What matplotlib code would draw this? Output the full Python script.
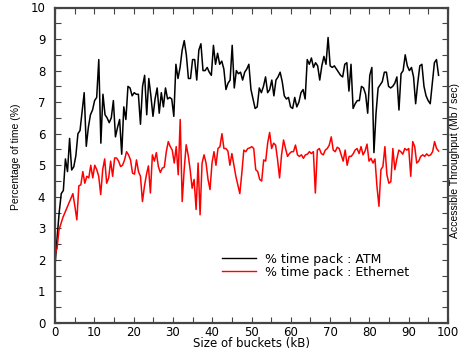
import numpy as np
import matplotlib
matplotlib.use("Agg")
import matplotlib.pyplot as plt
from matplotlib.ticker import MultipleLocator

# % of time spent packing, ATM (black)
atm = [1.8, 2.7, 3.5, 4.1, 4.2, 5.2, 4.8, 5.85, 4.85, 4.95,
       5.3, 6.0, 6.1, 6.7, 7.3, 5.6, 6.2, 6.6, 6.75, 7.05,
       7.15, 8.35, 5.7, 7.25, 6.6, 6.5, 6.35, 6.5, 7.05, 5.9,
       6.2, 6.45, 5.35, 6.85, 6.45, 7.5, 7.45, 7.2, 7.3, 7.25,
       7.25, 6.3, 7.5, 7.85, 6.6,
       7.75, 7.2, 6.55, 7.1, 7.45, 6.65, 7.3, 6.85, 7.45, 7.1,
       7.15, 7.1, 6.55, 8.2, 7.75, 8.1, 8.65, 8.95, 8.5, 7.75,
       7.75, 8.35, 8.35, 7.7, 8.65, 8.85, 8.0, 8.0, 8.1, 7.95,
       7.85, 8.8, 8.2, 8.55, 8.2, 8.3, 8.05, 7.4, 7.6, 7.7,
       8.8, 7.45, 8.0, 7.9, 7.95, 7.7, 7.95, 8.05, 8.2, 7.4,
       7.1, 6.8, 6.85, 7.45, 7.3, 7.5, 7.8, 7.3, 7.4, 7.7,
       7.2, 7.7, 7.8, 7.95, 7.65, 7.2, 7.1, 7.15, 6.85, 6.8,
       7.15, 6.85, 7.0, 7.3, 7.4, 7.1, 8.35, 8.2, 8.4, 8.1,
       8.25, 8.15, 7.7, 8.15, 8.45, 8.2, 9.05, 8.15, 8.1, 8.15,
       8.05, 7.95, 7.85, 7.8, 8.2, 8.25, 7.35, 8.2, 6.8, 6.95,
       7.05, 7.05, 7.5, 7.45, 7.25, 6.65, 7.85, 8.1, 5.4, 6.65,
       7.45, 7.55, 7.65, 7.95, 7.95, 7.5, 7.45, 7.5, 7.6, 7.8,
       6.75, 7.9, 8.0, 8.5, 8.15, 8.0, 8.1, 7.8, 6.95, 7.6,
       8.15, 8.2, 7.5, 7.2, 7.05, 6.95, 7.6, 8.25, 8.35, 7.85]

# % of time spent packing, Ethernet (red)
eth = [2.2, 2.35, 2.95, 3.15, 3.35, 3.5, 3.65, 3.8, 3.95, 4.1,
       3.7, 3.27, 4.35, 4.38, 4.8, 4.43, 4.65, 4.6, 5.0, 4.6,
       5.0, 4.86, 4.65, 4.07, 4.86, 5.2, 4.43, 4.6, 5.13, 4.65,
       5.23, 5.23, 5.13, 4.96,
       5.0, 5.17, 5.43, 5.33, 5.17, 4.75, 4.72, 5.17, 4.8, 4.65,
       3.85, 4.33, 4.7, 4.98, 4.12, 5.33, 5.13, 5.4, 4.96, 4.77,
       4.91, 4.94, 5.43, 5.75, 5.59, 5.48, 5.07, 5.59, 4.7, 6.45,
       3.85, 4.86, 5.65, 5.33, 4.86, 4.27, 4.55, 3.6, 5.07, 3.43,
       5.07, 5.33, 5.07, 4.55, 4.23, 5.07, 5.43, 5.0, 5.53, 5.59,
       6.0, 5.53, 5.53, 5.45, 5.0, 5.37, 5.0, 4.65, 4.38, 4.1,
       4.75, 5.48, 5.43, 5.53,
       5.55, 5.59, 5.53, 4.86, 4.8, 4.55, 4.5, 5.17, 5.13, 5.7,
       6.04, 5.53, 5.7, 5.64, 5.17, 4.6, 5.33, 5.8, 5.53, 5.28,
       5.37, 5.43, 5.43, 5.64, 5.33, 5.28, 5.33, 5.22, 5.33, 5.35,
       5.43, 5.37, 5.43, 4.12,
       5.48, 5.53, 5.37, 5.33, 5.48, 5.53, 5.64, 5.9, 5.48, 5.43,
       5.57, 5.53, 5.33, 5.13, 5.48, 5.0, 5.28, 5.28, 5.36, 5.48,
       5.53, 5.37, 5.59, 5.33, 5.45, 5.67, 5.13, 5.22, 5.07, 5.2,
       4.33, 3.7, 4.86,
       4.96, 5.59, 4.7, 4.43, 4.48, 5.53, 4.86, 5.2, 5.48, 5.43,
       5.35, 5.53, 5.48, 5.53, 4.65, 5.75, 5.59, 5.07, 5.13, 5.28,
       5.33, 5.28, 5.36, 5.3, 5.33, 5.43, 5.75, 5.53, 5.45]

bucket_start_kb = 0.0
bucket_end_kb = 97.6
atm_kb = np.linspace(bucket_start_kb, bucket_end_kb, len(atm))
eth_kb = np.linspace(bucket_start_kb, bucket_end_kb, len(eth))

labels = ["% time pack : ATM", "% time pack : Ethernet"]
xticks = [0, 10, 20, 30, 40, 50, 60, 70, 80, 90, 100]
yticks = [0, 1, 2, 3, 4, 5, 6, 7, 8, 9, 10]

plt.rcParams['font.family'] = ['DejaVu Sans']

fig = plt.figure(figsize=(4.62, 3.52), dpi=100)
ax = fig.add_axes([55/462, 1-323/352, (448-55)/462, (323-7.5)/352])

ax.plot(atm_kb, atm, color='black', lw=1.1, label=labels[0])
ax.plot(eth_kb, eth, color='#ff0000', lw=1.1, label=labels[1])

ax.set_xlim(0, 100)
ax.set_ylim(0, 10)
ax.set_xticks(xticks)
ax.set_yticks(yticks)
ax.xaxis.set_minor_locator(MultipleLocator(5))
ax.yaxis.set_minor_locator(MultipleLocator(0.5))
ax.tick_params(which='both', direction='in', top=True, right=True,
               length=4, width=0.8, color='#444444', labelsize=8.5)
ax.tick_params(axis='y', labelright=False, pad=7)
ax.tick_params(axis='x', pad=2)
for s in ax.spines.values():
    s.set_color('#444444')
    s.set_linewidth(1.6)

ax.set_xlabel("Size of buckets (kB)", fontsize=8.5)
ax.xaxis.set_label_coords(0.5, (323-337.5)/315.5)
fig.text(16/462, 1-157/352, "Percentage of time (%)", rotation=90,
         ha='center', va='center', fontsize=7.5,
         family=['Liberation Sans Narrow', 'Liberation Sans'])
fig.text(455.5/462, 1-160/352, "Accessible Throughput (Mb / sec)", rotation=90,
         ha='center', va='center', fontsize=7.5,
         family=['Liberation Sans Narrow', 'Liberation Sans'])

leg = ax.legend(loc='upper left', bbox_to_anchor=(0.41, 0.243), frameon=False,
                fontsize=9, handlelength=2.7, handletextpad=0.7,
                labelspacing=0.0, borderpad=0)
for line in leg.get_lines():
    line.set_linewidth(1.0)

fig.savefig("out.png", dpi=100)
